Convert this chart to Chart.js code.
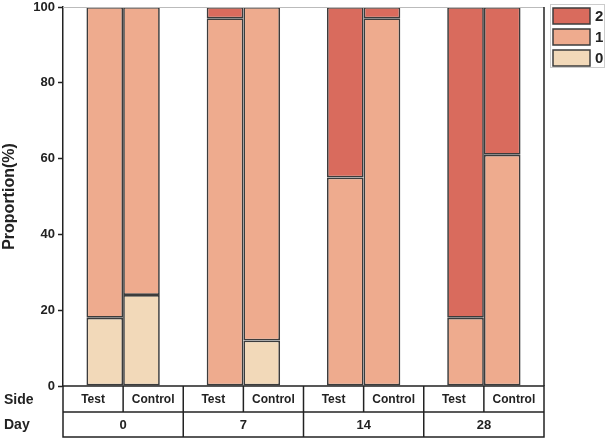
<!DOCTYPE html>
<html>
<head>
<meta charset="utf-8">
<script src="https://cdn.jsdelivr.net/npm/chart.js@4/dist/chart.umd.min.js"></script>
<style>
  html, body { margin: 0; padding: 0; background: #fff; }
  #wrap { width: 606px; height: 439px; }
</style>
</head>
<body>
<div id="wrap"><canvas id="myChart" width="606" height="439"></canvas></div>
<script>
// 数据
const days = ['0', '7', '14', '28'];
const sides = ['Test', 'Control'];
const levels = ['2', '1', '0'];        // legend order, top to bottom
const level0Test    = [18, 0, 0, 0];
const level0Control = [24, 12, 0, 0];
const level1Test    = [82, 97, 55, 18];
const level1Control = [76, 88, 97, 61];
const level2Test    = [0, 3, 45, 82];
const level2Control = [0, 0, 3, 39];
const yTicks = [0, 20, 40, 60, 80, 100];

const colors = { '0': '#f2d9b9', '1': '#eeab8e', '2': '#d96b5d' };
const edge = '#3c3c3c';
const FONT = '"Liberation Sans", Arial, sans-serif';

function ds(level, side, data) {
  return {
    label: level,
    stack: side,
    data: data,
    backgroundColor: colors[level],
    borderColor: edge,
    borderWidth: 1.7,
    borderSkipped: false,
    barPercentage: 1.0,
    categoryPercentage: 0.61
  };
}

// 表格 + 图例 + 边框
const tablePlugin = {
  id: 'sideDayTable',
  afterDraw(chart) {
    const c = chart.ctx;
    const a = chart.chartArea;
    const x = chart.scales.x;
    const step = x.getPixelForValue(1) - x.getPixelForValue(0);
    const r1 = a.bottom + 26, r2 = a.bottom + 51;
    c.save();
    // top + right frame of plot
    c.strokeStyle = '#bbbbbb'; c.lineWidth = 1;
    c.beginPath(); c.moveTo(a.left, a.top + 0.5); c.lineTo(a.right, a.top + 0.5); c.stroke();
    c.strokeStyle = '#222'; c.lineWidth = 1.5;
    c.beginPath(); c.moveTo(a.right, a.top); c.lineTo(a.right, a.bottom); c.stroke();

    // table grid
    c.strokeRect(a.left, a.bottom, a.right - a.left, r2 - a.bottom);
    c.beginPath(); c.moveTo(a.left, r1); c.lineTo(a.right, r1); c.stroke();
    c.fillStyle = '#222';
    c.textAlign = 'center'; c.textBaseline = 'middle';
    days.forEach((d, i) => {
      const cx = x.getPixelForValue(i);
      const l = cx - step / 2, r = cx + step / 2;
      c.beginPath(); c.moveTo(cx, a.bottom); c.lineTo(cx, r1); c.stroke();
      if (i > 0) { c.beginPath(); c.moveTo(l, a.bottom); c.lineTo(l, r2); c.stroke(); }
      c.font = 'bold 12px ' + FONT;
      c.fillText(sides[0], (l + cx) / 2, (a.bottom + r1) / 2 + 1);
      c.fillText(sides[1], (cx + r) / 2, (a.bottom + r1) / 2 + 1);
      c.font = 'bold 13px ' + FONT;
      c.fillText(d, cx, (r1 + r2) / 2 + 1);
    });
    c.font = 'bold 14px ' + FONT;
    c.textAlign = 'left';
    c.fillText('Side', 4, (a.bottom + r1) / 2 + 1);
    c.fillText('Day', 4, (r1 + r2) / 2 + 1);

    // legend
    c.strokeStyle = '#cccccc'; c.lineWidth = 1;
    c.strokeRect(550.5, 4.5, 54, 63);
    levels.forEach((lv, i) => {
      const y = 8 + i * 21;
      c.fillStyle = colors[lv];
      c.fillRect(553, y, 37, 16);
      c.strokeStyle = edge; c.lineWidth = 1.5;
      c.strokeRect(553, y, 37, 16);
      c.fillStyle = '#222';
      c.font = 'bold 15px ' + FONT;
      c.textAlign = 'left';
      c.fillText(lv, 595, y + 9);
    });
    c.restore();
  }
};

window.addEventListener('DOMContentLoaded', () => {
  const ctx = document.getElementById('myChart').getContext('2d');
  new Chart(ctx, {
    type: 'bar',
    data: {
      labels: days,
      datasets: [
        ds('0', 'Test', level0Test),
        ds('1', 'Test', level1Test),
        ds('2', 'Test', level2Test),
        ds('0', 'Control', level0Control),
        ds('1', 'Control', level1Control),
        ds('2', 'Control', level2Control)
      ]
    },
    options: {
      responsive: false,
      animation: false,
      layout: { padding: { left: 0, right: 62, top: 7, bottom: 53 } },
      plugins: {
        legend: { display: false },
        tooltip: { enabled: false },
        title: { display: false }
      },
      scales: {
        x: {
          stacked: true,
          display: false
        },
        y: {
          stacked: true,
          min: 0,
          max: 100,
          afterBuildTicks: (s) => { s.ticks = yTicks.map(v => ({ value: v })); },
          afterFit: (s) => { s.width = 63; s.paddingTop = 0; s.paddingBottom = 0; },
          ticks: {
            color: '#222',
            padding: 3,
            font: { family: FONT, size: 13, weight: 'bold' }
          },
          grid: {
            drawOnChartArea: false,
            drawTicks: true,
            tickLength: 5,
            tickWidth: 1.5,
            tickColor: '#222'
          },
          border: { color: '#222', width: 1.5 },
          title: {
            display: true,
            text: 'Proportion(%)',
            color: '#222',
            padding: 0,
            font: { family: FONT, size: 16, weight: 'bold' }
          }
        }
      }
    },
    plugins: [tablePlugin]
  });
});
</script>
</body>
</html>
